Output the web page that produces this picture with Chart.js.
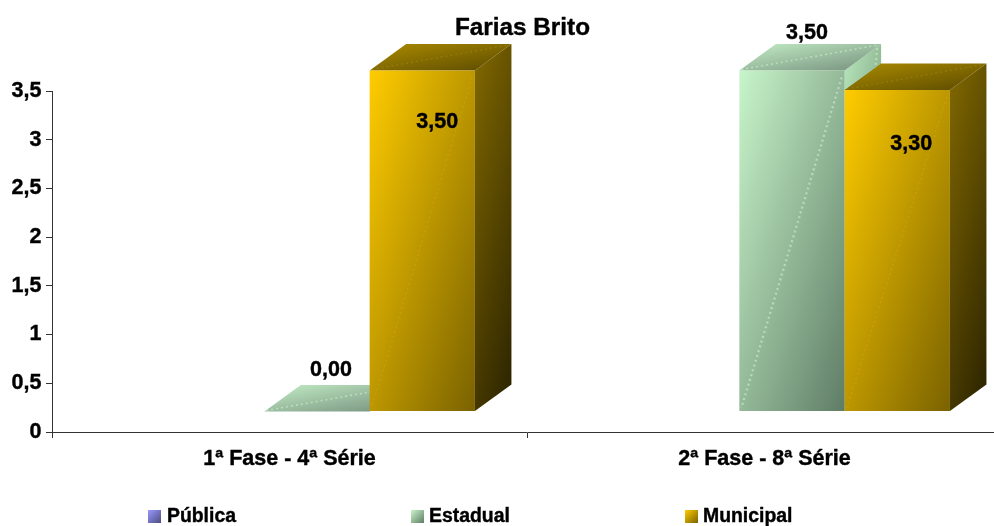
<!DOCTYPE html>
<html><head><meta charset="utf-8">
<style>html,body{margin:0;padding:0;background:#fff;overflow:hidden;width:994px;height:526px}canvas{display:block}</style>
<script src="https://cdn.jsdelivr.net/npm/chart.js@4"></script>
</head><body><div style="width:994px;height:526px;overflow:hidden"><canvas id="c" width="1002" height="526"></canvas></div>
<script>
const titleText = 'Farias Brito';
const categories = ['1ª Fase - 4ª Série', '2ª Fase - 8ª Série'];
const seriesNames = ['Pública', 'Estadual', 'Municipal'];
const publica = [null, null];
const estadual = [0.0, 3.5];
const municipal = [3.5, 3.3];
const yTicks = { min: 0, max: 3.5, step: 0.5 };

const FONT = '"Liberation Sans", Arial, sans-serif';
const DEPTH = { x: 36.5, y: 26.5 };
const SHIFT = { x: 27.5, y: -20.5 };
const palettes = [
  { front: ['#9999FF', '#4D4D80'], side: ['#7070C0', '#202040'], top: ['#9090E0', '#505090'] },
  { front: ['#C8F5CA', '#5F7D66'], side: ['#B8E8BC', '#4A604E'], top: ['#C4EEC6', '#748F7C'], streak: 'rgba(225,255,225,0.45)', sideStreak: true },
  { front: ['#FFCC00', '#7A6200'], side: ['#826900', '#2A2200'], top: ['#AC8C00', '#5A4900'], streak: 'rgba(255,225,90,0.12)' }
];
const labelOffsets = [null, [[14, -41], [15, -37]], [[15, 52], [14, 54]]];
const legendSpots = [{ box: 148, text: 167 }, { box: 411, text: 429 }, { box: 685, text: 703 }];

function diag(ctx, x, y, w, h, stops, a) {
  a = a === undefined ? 0.5 : a;
  const gx = a / w, gy = (1 - a) / h;
  const t = 1 / (gx * gx + gy * gy);
  const g = ctx.createLinearGradient(x, y, x + t * gx, y + t * gy);
  g.addColorStop(0, stops[0]);
  g.addColorStop(1, stops[1]);
  return g;
}
function poly(ctx, pts, fill) {
  ctx.beginPath();
  pts.forEach((p, i) => i ? ctx.lineTo(p[0], p[1]) : ctx.moveTo(p[0], p[1]));
  ctx.closePath();
  ctx.fillStyle = fill;
  ctx.fill();
}
function streak(ctx, a, b, color, width) {
  ctx.save();
  ctx.strokeStyle = color;
  ctx.lineWidth = width;
  ctx.setLineDash([2, 3]);
  ctx.beginPath();
  ctx.moveTo(a[0], a[1]);
  ctx.lineTo(b[0], b[1]);
  ctx.stroke();
  ctx.restore();
}
function boldText(ctx, s, x, y) {
  ctx.lineWidth = 0.4;
  ctx.strokeStyle = '#000';
  ctx.strokeText(s, x, y);
  ctx.fillText(s, x, y);
}

const bars3d = {
  id: 'bars3d',
  beforeDatasetsDraw(chart) {
    const ctx = chart.ctx;
    ctx.save();
    ctx.translate(SHIFT.x, SHIFT.y);
    chart.data.datasets.forEach((ds, di) => {
      const meta = chart.getDatasetMeta(di);
      const pal = palettes[di];
      meta.data.forEach((el, i) => {
        if (ds.data[i] === null) return;
        const l = el.x - el.width / 2, r = el.x + el.width / 2, t = el.y, b = el.base, h = Math.max(b - t, 1);
        const dx = DEPTH.x, dy = DEPTH.y;
        if (b - t > 1) {
          poly(ctx, [[r, t], [r + dx, t - dy], [r + dx, b - dy], [r, b]], diag(ctx, r, t - dy, dx, h + dy, pal.side, 0.3));
          if (pal.sideStreak) streak(ctx, [r + dx - 4, t - dy + 4], [r + 3, b - 4], pal.streak, 2);
        }
        poly(ctx, [[l, t], [l + dx, t - dy], [r + dx, t - dy], [r, t]], diag(ctx, l, t - dy, el.width + dx, dy, pal.top));
        if (pal.streak) streak(ctx, [l + 2, t - 1], [r + dx - 3, t - dy + 1], pal.streak, 1.6);
        el.options = Object.assign({}, el.options, { backgroundColor: diag(ctx, l, t, el.width, h, pal.front) });
      });
      meta.controller.draw();
      meta.data.forEach((el, i) => {
        if (ds.data[i] === null || !pal.streak || el.base - el.y <= 1) return;
        const l = el.x - el.width / 2, r = el.x + el.width / 2;
        streak(ctx, [r - 3, el.y + 7], [l + 2, el.base - 3], pal.streak, di === 1 ? 2.4 : 1.6);
      });
    });
    ctx.restore();
    return false;
  },
  afterDraw(chart) {
    const ctx = chart.ctx;
    ctx.save();
    ctx.fillStyle = '#000';
    ctx.textBaseline = 'middle';
    ctx.textAlign = 'center';
    ctx.font = 'bold 21.5px ' + FONT;
    chart.data.datasets.forEach((ds, di) => {
      const meta = chart.getDatasetMeta(di);
      meta.data.forEach((el, i) => {
        if (ds.data[i] === null) return;
        const o = labelOffsets[di][i];
        boldText(ctx, ds.data[i].toFixed(2).replace('.', ','), el.x + SHIFT.x + o[0], el.y + SHIFT.y + o[1]);
      });
    });
    ctx.font = 'bold 24.3px ' + FONT;
    boldText(ctx, titleText, 522.5, 28);
    ctx.textAlign = 'left';
    ctx.font = 'bold 19.4px ' + FONT;
    chart.data.datasets.forEach((ds, di) => {
      const s = legendSpots[di];
      ctx.fillStyle = diag(ctx, s.box, 510, 13, 13, palettes[di].front);
      ctx.fillRect(s.box, 510, 13, 13);
      ctx.fillStyle = '#000';
      boldText(ctx, ds.label, s.text, 516.5);
    });
    ctx.restore();
  }
};

new Chart(document.getElementById('c'), {
  type: 'bar',
  data: {
    labels: categories,
    datasets: [
      { label: seriesNames[0], data: publica, backgroundColor: palettes[0].front[0] },
      { label: seriesNames[1], data: estadual, backgroundColor: palettes[1].front[0] },
      { label: seriesNames[2], data: municipal, backgroundColor: palettes[2].front[0] }
    ]
  },
  options: {
    responsive: false,
    animation: false,
    events: [],
    layout: { padding: { top: 91, left: 0, right: 0, bottom: 0 } },
    datasets: { bar: { categoryPercentage: 0.665, barPercentage: 1, borderWidth: 0 } },
    plugins: { legend: { display: false }, tooltip: { enabled: false }, title: { display: false } },
    scales: {
      x: {
        afterFit(s) { s.height = 94; },
        grid: { display: true, offset: true, drawOnChartArea: false, drawTicks: true, tickLength: 6, color: '#333' },
        border: { color: '#333', width: 1 },
        ticks: { color: '#000', padding: 8, maxRotation: 0, autoSkip: false, textStrokeColor: '#000', textStrokeWidth: 0.4, font: { family: FONT, size: 21.5, weight: 'bold' } }
      },
      y: {
        min: yTicks.min, max: yTicks.max,
        afterFit(s) { s.width = 52; },
        grid: { display: true, drawOnChartArea: false, drawTicks: true, tickLength: 6, color: '#333' },
        border: { color: '#333', width: 1 },
        ticks: {
          stepSize: yTicks.step, color: '#000', padding: 4.5, textStrokeColor: '#000', textStrokeWidth: 0.4,
          font: { family: FONT, size: 21.5, weight: 'bold' },
          callback: v => String(v).replace('.', ',')
        }
      }
    }
  },
  plugins: [bars3d]
});
</script></body></html>
